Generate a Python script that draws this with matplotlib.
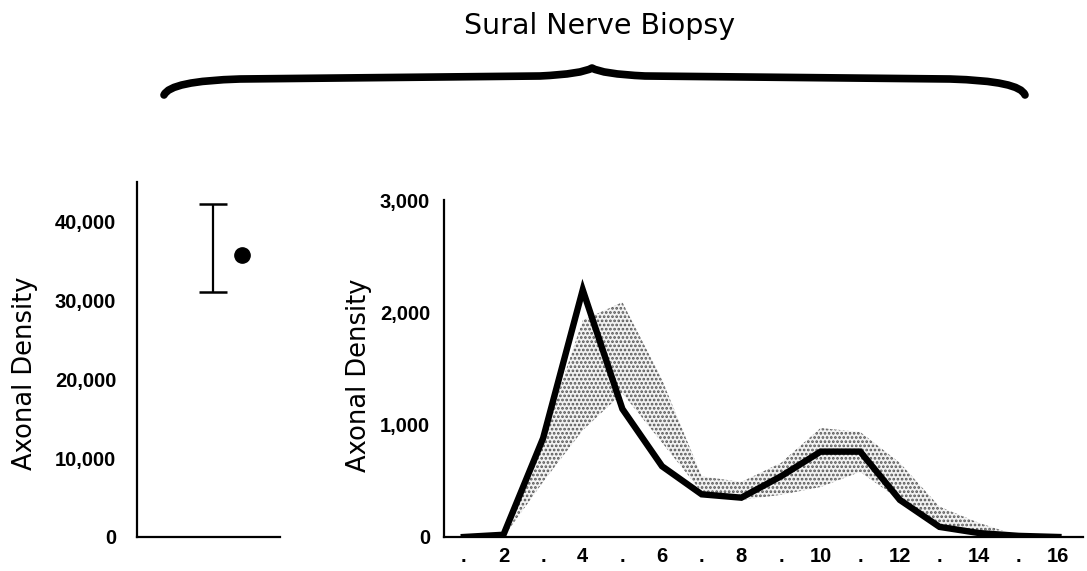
import numpy as np
import matplotlib.pyplot as plt
from matplotlib.path import Path
from matplotlib.patches import PathPatch

# left panel: total axonal density (normal range + patient value)
normal_low = 31100
normal_high = 42200
patient_total = 35700

# right panel: size distribution of axons
diam = np.arange(1, 17)
patient = [0, 20, 880, 2200, 1140, 630, 380, 350, 540, 760, 760, 330, 90, 35, 10, 0]
band_low = [0, 0, 490, 950, 1280, 840, 400, 330, 375, 445, 580, 330, 90, 35, 0, 0]
band_high = [0, 0, 880, 1930, 2090, 1400, 540, 490, 660, 970, 935, 660, 270, 125, 10, 0]
xtick_labels = ['.', '2', '.', '4', '.', '6', '.', '8', '.', '10', '.', '12', '.', '14', '.', '16']

plt.rcParams['hatch.linewidth'] = 1.3

tick_font = dict(family='Liberation Sans', weight='bold', size=14.5)
label_font = dict(family='DejaVu Sans', size=18.5, weight='normal')

fig = plt.figure(figsize=(10.87, 5.71), dpi=100)

# background layer for the title and the brace (pixel units)
bg = fig.add_axes([0, 0, 1, 1], zorder=-1)
bg.set_xlim(0, 1087)
bg.set_ylim(571, 0)
bg.axis('off')

verts = [(164, 95), (170, 81), (240, 79), (540, 76), (582, 74), (592, 68),
         (602, 74), (645, 76), (950, 79), (1020, 81), (1025, 95)]
codes = [Path.MOVETO, Path.CURVE3, Path.CURVE3, Path.LINETO, Path.CURVE3, Path.CURVE3,
         Path.CURVE3, Path.CURVE3, Path.LINETO, Path.CURVE3, Path.CURVE3]
bg.add_patch(PathPatch(Path(verts, codes), fill=False, edgecolor='black', lw=5.5,
                       capstyle='round', joinstyle='round'))
bg.text(600, 26, 'Sural Nerve Biopsy', ha='center', va='center',
        family='DejaVu Sans', size=20.5)

# left panel
ax1 = fig.add_axes([137 / 1087, 34 / 571, 143 / 1087, 355 / 571])
ax1.set_xlim(0, 1)
ax1.set_ylim(0, 45000)
mid = (normal_low + normal_high) / 2
ax1.errorbar([0.53], [mid], yerr=[[mid - normal_low], [normal_high - mid]],
             fmt='none', ecolor='black', elinewidth=1.6, capsize=10, capthick=1.8)
ax1.plot([0.735], [patient_total], 'o', color='black', markersize=11)
ax1.set_yticks([0, 10000, 20000, 30000, 40000])
ax1.set_yticklabels(['0', '10,000', '20,000', '30,000', '40,000'], **tick_font)
ax1.set_xticks([])
ax1.tick_params(axis='y', length=0, pad=15)
ax1.set_ylabel('Axonal Density', labelpad=12, y=0.46, **label_font)

# right panel
ax2 = fig.add_axes([444 / 1087, 34 / 571, 639 / 1087, 337 / 571])
ax2.fill_between(diam, band_low, band_high, facecolor='#f2f2f2', edgecolor='#555555',
                 hatch='....', linewidth=0)
ax2.plot(diam, patient, color='black', lw=4.6, solid_joinstyle='miter')
ax2.set_xlim(0.5, 16.62)
ax2.set_ylim(0, 3000)
ax2.set_yticks([0, 1000, 2000, 3000])
ax2.set_yticklabels(['0', '1,000', '2,000', '3,000'], **tick_font)
ax2.set_xticks(diam)
ax2.set_xticklabels(xtick_labels, **tick_font)
ax2.tick_params(axis='y', length=0, pad=10)
ax2.tick_params(axis='x', length=0, pad=7)
ax2.set_ylabel('Axonal Density', labelpad=6, y=0.48, **label_font)

for ax in (ax1, ax2):
    for side in ('top', 'right'):
        ax.spines[side].set_visible(False)
    for side in ('left', 'bottom'):
        ax.spines[side].set_linewidth(1.6)

fig.savefig('out.png', dpi=100)
